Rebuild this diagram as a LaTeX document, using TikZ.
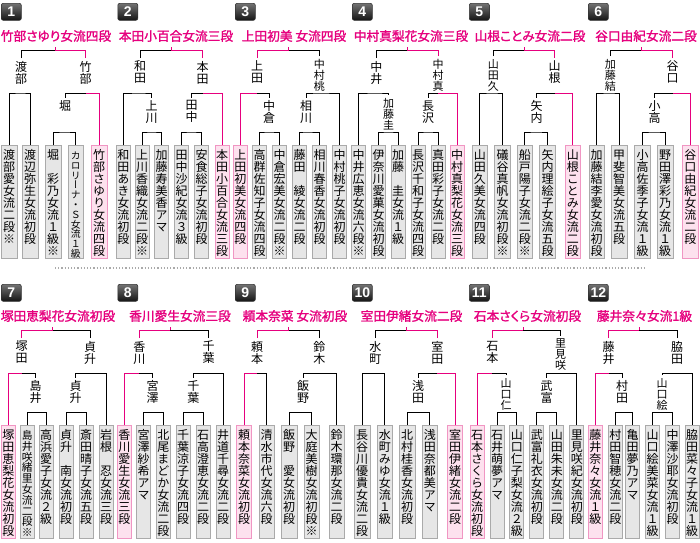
\documentclass[tikz,border=0pt]{standalone}
\usepackage{fontspec}
\newfontfamily\jp[RawFeature=+vert]{Noto Sans CJK JP}
\newfontfamily\jph[RawFeature=+palt,FakeBold=1.5]{Noto Sans CJK JP}
\newfontfamily\numfont{Liberation Sans}
\definecolor{winpink}{RGB}{230,0,126}
\definecolor{winfill}{RGB}{253,225,238}
\definecolor{winedge}{RGB}{240,150,195}
\definecolor{plyfill}{RGB}{230,230,230}
\definecolor{plyedge}{RGB}{170,170,170}

% vertical text, one character under the other
\newcount\tatecnt
\newdimen\tatepitch
\newdimen\tatesize
\protected\def\aki{}
\def\tatecount#1{\ifx\relax#1\else\advance\tatecnt by 1 \expandafter\tatecount\fi}
\def\tatechars#1{\ifx\relax#1\else\hbox to 0pt{\hss#1\hss}\expandafter\tatechars\fi}
\newcommand\tatex[3]{\tatecnt=0 \tatecount#3\relax
  \tatepitch=#1\relax \divide\tatepitch by\tatecnt
  \ifdim\tatepitch>#2\relax \tatepitch=#2\relax\fi
  \tatesize=\tatepitch \ifdim\tatesize>12pt \tatesize=12pt\fi
  \fontsize{\the\tatesize}{\the\tatepitch}\selectfont
  \vtop{\baselineskip=\tatepitch \lineskiplimit=-100pt \tatechars#3\relax}}
\newcommand\tate[1]{\tatex{108pt}{12pt}{#1}}
\newcommand\lbltext[1]{\tatex{33pt}{12pt}{#1}}

\begin{document}
\begin{tikzpicture}[x=1pt, y=-1pt, line width=1pt,
  ply/.style={draw=plyedge, fill=plyfill, line width=0.8pt, anchor=north, minimum width=14pt,
    inner xsep=0pt, inner ysep=5pt, text height=9pt, text depth=94pt, font=\jp},
  ply5/.style={ply, minimum width=15.5pt},
  wply/.style={ply, draw=winedge, fill=winfill},
  wply5/.style={wply, minimum width=15.5pt},
  lbl/.style={anchor=north, inner sep=2.5pt, font=\jp},
  champ/.style={font={\jph\fontsize{12.7}{13}\selectfont}, text=winpink, inner ysep=4.5pt},
  badge/.style={anchor=north west, rounded corners=2pt, top color=black!55, bottom color=black!92,
    draw=black!80, line width=0.6pt, minimum width=20pt, minimum height=17pt, inner sep=0pt,
    text=white, font={\numfont\bfseries\fontsize{14}{14}\selectfont}},
  win/.style={draw=winpink}]

\useasboundingbox (0,0) rectangle (700,542);
\fill[white] (0,0) rectangle (700,542);

\foreach \n/\x/\y in {1/1/3, 2/117.5/3, 3/235/3, 4/352/3, 5/469/3, 6/588/3,
    7/1/284, 8/117.5/284, 9/235/284, 10/352/284, 11/469/284, 12/588/284}
  \node[badge] (n\n) at (\x,\y) {\n};

\draw[plyedge, dotted, line width=1.2pt] (55,268) -- (645,268);

% 1
\node[champ] (c1) at (56,36) {竹部さゆり女流四段};
\node[ply5] (p1a) at (9.2,145) {\tate{渡部愛女流二段※}};
\node[ply5] (p1b) at (30.2,145) {\tate{渡辺弥生女流初段}};
\node[ply5] (p1c) at (53.2,145) {\tate{堀\aki 彩乃女流１級※}};
\node[ply5] (p1d) at (75.8,145) {\tate{カロリーナ・Ｓ女流１級}};
\node[wply5] (p1e) at (99.2,145) {\tate{竹部さゆり女流四段}};
\node[lbl] (l1a) at (21,58) {\lbltext{渡部}};
\node[lbl] (l1b) at (85.5,58) {\lbltext{竹部}};
\node[lbl] (l1c) at (65,97.5) {\lbltext{堀}};
\coordinate (m1) at (55,50);
\coordinate (m1a) at (21,93);
\coordinate (m1b) at (85.5,93);
\coordinate (m1c) at (65,132);
\draw (l1a.north) |- (m1);
\draw[win] (l1b.north) |- (m1) -- (m1 |- c1.south);
\draw (p1a.north) |- (m1a) -| (p1b.north);
\draw (l1c.north) |- (m1b);
\draw[win] (p1e.north) |- (m1b);
\draw (p1c.north) |- (m1c) -| (p1d.north);

% 2
\node[champ] (c2) at (176,36) {本田小百合女流三段};
\node[ply] (p2a) at (123.3,145) {\tate{和田あき女流初段}};
\node[ply] (p2b) at (142,145) {\tate{上川香織女流二段※}};
\node[ply] (p2c) at (161.7,145) {\tate{加藤寿美香アマ}};
\node[ply] (p2d) at (181.7,145) {\tate{田中沙紀女流３級}};
\node[ply] (p2e) at (201.7,145) {\tate{安食総子女流初段}};
\node[wply] (p2f) at (222,145) {\tate{本田小百合女流三段}};
\node[lbl] (l2a) at (140,58) {\lbltext{和田}};
\node[lbl] (l2b) at (202.5,58) {\lbltext{本田}};
\node[lbl] (l2c) at (151.5,97.5) {\lbltext{上川}};
\node[lbl] (l2d) at (191.5,97.5) {\lbltext{田中}};
\coordinate (m2) at (171,50);
\coordinate (m2a) at (140,93);
\coordinate (m2b) at (202.5,93);
\coordinate (m2c) at (151.5,132);
\coordinate (m2d) at (191.5,132);
\draw (l2a.north) |- (m2);
\draw[win] (l2b.north) |- (m2) -- (m2 |- c2.south);
\draw (p2a.north) |- (m2a) -| (l2c.north);
\draw (l2d.north) |- (m2b);
\draw[win] (p2f.north) |- (m2b);
\draw (p2b.north) |- (m2c) -| (p2c.north);
\draw (p2d.north) |- (m2d) -| (p2e.north);

% 3
\node[champ] (c3) at (294,36) {上田初美 女流四段};
\node[wply] (p3a) at (240.3,145) {\tate{上田初美女流四段}};
\node[ply] (p3b) at (259.7,145) {\tate{高群佐知子女流四段}};
\node[ply] (p3c) at (279.7,145) {\tate{中倉宏美女流二段※}};
\node[ply] (p3d) at (299.7,145) {\tate{藤田\aki 綾女流二段}};
\node[ply] (p3e) at (319.7,145) {\tate{相川春香女流初段}};
\node[ply] (p3f) at (339.7,145) {\tate{中村桃子女流初段}};
\node[lbl] (l3a) at (257,58) {\lbltext{上田}};
\node[lbl] (l3b) at (319.3,56) {\lbltext{中村桃}};
\node[lbl] (l3c) at (269,97.5) {\lbltext{中倉}};
\node[lbl] (l3d) at (306,97.5) {\lbltext{相川}};
\coordinate (m3) at (288.7,50);
\coordinate (m3a) at (257,93);
\coordinate (m3b) at (319.3,93);
\coordinate (m3c) at (269,132);
\coordinate (m3d) at (306,132);
\draw[win] (l3a.north) |- (m3) -- (m3 |- c3.south);
\draw (l3b.north) |- (m3);
\draw[win] (p3a.north) |- (m3a);
\draw (l3c.north) |- (m3a);
\draw (l3d.north) |- (m3b) -| (p3f.north);
\draw (p3b.north) |- (m3c) -| (p3c.north);
\draw (p3d.north) |- (m3d) -| (p3e.north);

% 4
\node[champ] (c4) at (411,36) {中村真梨花女流三段};
\node[ply] (p4a) at (358.7,145) {\tate{中井広恵女流六段※}};
\node[ply] (p4b) at (378.7,145) {\tate{伊奈川愛菓女流初段}};
\node[ply] (p4c) at (398,145) {\tate{加藤\aki 圭女流１級}};
\node[ply] (p4d) at (418,145) {\tate{長沢千和子女流四段}};
\node[ply] (p4e) at (438,145) {\tate{真田彩子女流二段}};
\node[wply] (p4f) at (457,145) {\tate{中村真梨花女流三段}};
\node[lbl] (l4a) at (376.3,58) {\lbltext{中井}};
\node[lbl] (l4b) at (438,56) {\lbltext{中村真}};
\node[lbl] (l4c) at (388.5,95) {\lbltext{加藤圭}};
\node[lbl] (l4d) at (428,97.5) {\lbltext{長沢}};
\coordinate (m4) at (407.3,50);
\coordinate (m4a) at (376.3,93);
\coordinate (m4b) at (438,93);
\coordinate (m4c) at (388.5,132);
\coordinate (m4d) at (428,132);
\draw (l4a.north) |- (m4);
\draw[win] (l4b.north) |- (m4) -- (m4 |- c4.south);
\draw (p4a.north) |- (m4a) -| (l4c.north);
\draw (l4d.north) |- (m4b);
\draw[win] (p4f.north) |- (m4b);
\draw (p4b.north) |- (m4c) -| (p4c.north);
\draw (p4d.north) |- (m4d) -| (p4e.north);

% 5
\node[champ] (c5) at (530,36) {山根ことみ女流二段};
\node[ply5] (p5a) at (479.8,145) {\tate{山田久美女流四段}};
\node[ply5] (p5b) at (502.5,145) {\tate{礒谷真帆女流初段※}};
\node[ply5] (p5c) at (524.8,145) {\tate{船戸陽子女流二段※}};
\node[ply5] (p5d) at (547.5,145) {\tate{矢内理絵子女流五段}};
\node[wply5] (p5e) at (572.8,145) {\tate{山根ことみ女流二段}};
\node[lbl] (l5a) at (493.3,56) {\lbltext{山田久}};
\node[lbl] (l5b) at (554.7,58) {\lbltext{山根}};
\node[lbl] (l5c) at (536.7,97.5) {\lbltext{矢内}};
\coordinate (m5) at (524.7,50);
\coordinate (m5a) at (493.3,93);
\coordinate (m5b) at (554.7,93);
\coordinate (m5c) at (536.7,132);
\draw (l5a.north) |- (m5);
\draw[win] (l5b.north) |- (m5) -- (m5 |- c5.south);
\draw (p5a.north) |- (m5a) -| (p5b.north);
\draw (l5c.north) |- (m5b);
\draw[win] (p5e.north) |- (m5b);
\draw (p5c.north) |- (m5c) -| (p5d.north);

% 6
\node[champ] (c6) at (646,36) {谷口由紀女流二段};
\node[ply5] (p6a) at (596.7,145) {\tate{加藤結李愛女流初段}};
\node[ply5] (p6b) at (619.2,145) {\tate{甲斐智美女流五段}};
\node[ply5] (p6c) at (642.5,145) {\tate{小高佐季子女流１級}};
\node[ply5] (p6d) at (665.2,145) {\tate{野田澤彩乃女流１級}};
\node[wply5] (p6e) at (690.3,145) {\tate{谷口由紀女流二段}};
\node[lbl] (l6a) at (610.3,56) {\lbltext{加藤結}};
\node[lbl] (l6b) at (672.7,58) {\lbltext{谷口}};
\node[lbl] (l6c) at (654.7,97.5) {\lbltext{小高}};
\coordinate (m6) at (641.3,50);
\coordinate (m6a) at (610.3,93);
\coordinate (m6b) at (672.7,93);
\coordinate (m6c) at (654.7,132);
\draw (l6a.north) |- (m6);
\draw[win] (l6b.north) |- (m6) -- (m6 |- c6.south);
\draw (p6a.north) |- (m6a) -| (p6b.north);
\draw (l6c.north) |- (m6b);
\draw[win] (p6e.north) |- (m6b);
\draw (p6c.north) |- (m6c) -| (p6d.north);

% 7
\node[champ] (c7) at (58,316) {塚田恵梨花女流初段};
\node[wply] (p7a) at (8.5,425) {\tate{塚田恵梨花女流初段}};
\node[ply] (p7b) at (27.2,425) {\tate{島井咲緒里女流二段※}};
\node[ply] (p7c) at (46.2,425) {\tate{高浜愛子女流２級}};
\node[ply] (p7d) at (66.2,425) {\tate{貞升\aki 南女流初段}};
\node[ply] (p7e) at (86.2,425) {\tate{斎田晴子女流五段}};
\node[ply] (p7f) at (106.2,425) {\tate{岩根\aki 忍女流三段}};
\node[lbl] (l7a) at (21.7,338) {\lbltext{塚田}};
\node[lbl] (l7b) at (90,338) {\lbltext{貞升}};
\node[lbl] (l7c) at (35.5,377.5) {\lbltext{島井}};
\node[lbl] (l7d) at (75.5,377.5) {\lbltext{貞升}};
\coordinate (m7) at (52.7,330);
\coordinate (m7a) at (21.7,373);
\coordinate (m7b) at (90,373);
\coordinate (m7c) at (35.5,412);
\coordinate (m7d) at (75.5,412);
\draw[win] (l7a.north) |- (m7) -- (m7 |- c7.south);
\draw (l7b.north) |- (m7);
\draw[win] (p7a.north) |- (m7a);
\draw (l7c.north) |- (m7a);
\draw (l7d.north) |- (m7b) -| (p7f.north);
\draw (p7b.north) |- (m7c) -| (p7c.north);
\draw (p7d.north) |- (m7d) -| (p7e.north);

% 8
\node[champ] (c8) at (180,316) {香川愛生女流三段};
\node[wply] (p8a) at (124.3,425) {\tate{香川愛生女流三段}};
\node[ply] (p8b) at (143.7,425) {\tate{宮澤紗希アマ}};
\node[ply] (p8c) at (163.3,425) {\tate{北尾まどか女流二段}};
\node[ply] (p8d) at (183,425) {\tate{千葉涼子女流四段}};
\node[ply] (p8e) at (203,425) {\tate{石高澄恵女流二段}};
\node[ply] (p8f) at (223,425) {\tate{井道千尋女流二段}};
\node[lbl] (l8a) at (139.3,338) {\lbltext{香川}};
\node[lbl] (l8b) at (208.7,338) {\lbltext{千葉}};
\node[lbl] (l8c) at (152.5,377.5) {\lbltext{宮澤}};
\node[lbl] (l8d) at (193.3,377.5) {\lbltext{千葉}};
\coordinate (m8) at (170.3,330);
\coordinate (m8a) at (139.3,373);
\coordinate (m8b) at (208.7,373);
\coordinate (m8c) at (152.5,412);
\coordinate (m8d) at (193.3,412);
\draw[win] (l8a.north) |- (m8) -- (m8 |- c8.south);
\draw (l8b.north) |- (m8);
\draw[win] (p8a.north) |- (m8a);
\draw (l8c.north) |- (m8a);
\draw (l8d.north) |- (m8b) -| (p8f.north);
\draw (p8b.north) |- (m8c) -| (p8c.north);
\draw (p8d.north) |- (m8d) -| (p8e.north);

% 9
\node[champ] (c9) at (295,316) {頼本奈菜 女流初段};
\node[wply5] (p9a) at (244,425) {\tate{頼本奈菜女流初段}};
\node[ply5] (p9b) at (266.7,425) {\tate{清水市代女流六段}};
\node[ply5] (p9c) at (289.2,425) {\tate{飯野\aki 愛女流初段}};
\node[ply5] (p9d) at (311.7,425) {\tate{大庭美樹女流初段※}};
\node[ply5] (p9e) at (336.7,425) {\tate{鈴木環那女流二段}};
\node[lbl] (l9a) at (257,338) {\lbltext{頼本}};
\node[lbl] (l9b) at (319.3,338) {\lbltext{鈴木}};
\node[lbl] (l9c) at (303,377.5) {\lbltext{飯野}};
\coordinate (m9) at (288.7,330);
\coordinate (m9a) at (257,373);
\coordinate (m9b) at (319.3,373);
\coordinate (m9c) at (303,412);
\draw[win] (l9a.north) |- (m9) -- (m9 |- c9.south);
\draw (l9b.north) |- (m9);
\draw[win] (p9a.north) |- (m9a);
\draw (p9b.north) |- (m9a);
\draw (l9c.north) |- (m9b) -| (p9e.north);
\draw (p9c.north) |- (m9c) -| (p9d.north);

% 10
\node[champ] (c10) at (411.5,316) {室田伊緒女流二段};
\node[ply5] (p10a) at (362.2,425) {\tate{長谷川優貴女流二段}};
\node[ply5] (p10b) at (384.8,425) {\tate{水町みゆ女流１級}};
\node[ply5] (p10c) at (407.2,425) {\tate{北村桂香女流初段}};
\node[ply5] (p10d) at (429.8,425) {\tate{浅田奈都美アマ}};
\node[wply5] (p10e) at (455,425) {\tate{室田伊緒女流二段}};
\node[lbl] (l10a) at (375.3,338) {\lbltext{水町}};
\node[lbl] (l10b) at (437.3,338) {\lbltext{室田}};
\node[lbl] (l10c) at (418,377.5) {\lbltext{浅田}};
\coordinate (m10) at (406.3,330);
\coordinate (m10a) at (375.3,373);
\coordinate (m10b) at (437.3,373);
\coordinate (m10c) at (418,412);
\draw (l10a.north) |- (m10);
\draw[win] (l10b.north) |- (m10) -- (m10 |- c10.south);
\draw (p10a.north) |- (m10a) -| (p10b.north);
\draw (l10c.north) |- (m10b);
\draw[win] (p10e.north) |- (m10b);
\draw (p10c.north) |- (m10c) -| (p10d.north);

% 11
\node[champ] (c11) at (527.5,316) {石本さくら女流初段};
\node[wply] (p11a) at (477,425) {\tate{石本さくら女流初段}};
\node[ply] (p11b) at (497,425) {\tate{石井萌夢アマ}};
\node[ply] (p11c) at (516.8,425) {\tate{山口仁子梨女流２級}};
\node[ply] (p11d) at (536.8,425) {\tate{武富礼衣女流初段}};
\node[ply] (p11e) at (556.8,425) {\tate{山田朱未女流二段}};
\node[ply] (p11f) at (576.8,425) {\tate{里見咲紀女流初段}};
\node[lbl] (l11a) at (492.3,338) {\lbltext{石本}};
\node[lbl] (l11b) at (560.7,336) {\lbltext{里見咲}};
\node[lbl] (l11c) at (506,375) {\lbltext{山口仁}};
\node[lbl] (l11d) at (546.7,377.5) {\lbltext{武富}};
\coordinate (m11) at (523.3,330);
\coordinate (m11a) at (492.3,373);
\coordinate (m11b) at (560.7,373);
\coordinate (m11c) at (506,412);
\coordinate (m11d) at (546.7,412);
\draw[win] (l11a.north) |- (m11) -- (m11 |- c11.south);
\draw (l11b.north) |- (m11);
\draw[win] (p11a.north) |- (m11a);
\draw (l11c.north) |- (m11a);
\draw (l11d.north) |- (m11b) -| (p11f.north);
\draw (p11b.north) |- (m11c) -| (p11c.north);
\draw (p11d.north) |- (m11d) -| (p11e.north);

% 12
\node[champ] (c12) at (644.5,316) {藤井奈々女流1級};
\node[wply] (p12a) at (595.3,425) {\tate{藤井奈々女流１級}};
\node[ply] (p12b) at (615.3,425) {\tate{村田智穂女流二段}};
\node[ply] (p12c) at (632.5,425) {\tate{亀田夢乃アマ}};
\node[ply] (p12d) at (652.5,425) {\tate{山口絵美菜女流１級}};
\node[ply] (p12e) at (672.5,425) {\tate{中澤沙耶女流初段}};
\node[ply] (p12f) at (692,425) {\tate{脇田菜々子女流１級}};
\node[lbl] (l12a) at (608.7,338) {\lbltext{藤井}};
\node[lbl] (l12b) at (677,338) {\lbltext{脇田}};
\node[lbl] (l12c) at (622,377.5) {\lbltext{村田}};
\node[lbl] (l12d) at (662,375) {\lbltext{山口絵}};
\coordinate (m12) at (639.3,330);
\coordinate (m12a) at (608.7,373);
\coordinate (m12b) at (677,373);
\coordinate (m12c) at (622,412);
\coordinate (m12d) at (662,412);
\draw[win] (l12a.north) |- (m12) -- (m12 |- c12.south);
\draw (l12b.north) |- (m12);
\draw[win] (p12a.north) |- (m12a);
\draw (l12c.north) |- (m12a);
\draw (l12d.north) |- (m12b) -| (p12f.north);
\draw (p12b.north) |- (m12c) -| (p12c.north);
\draw (p12d.north) |- (m12d) -| (p12e.north);

\end{tikzpicture}
\end{document}
